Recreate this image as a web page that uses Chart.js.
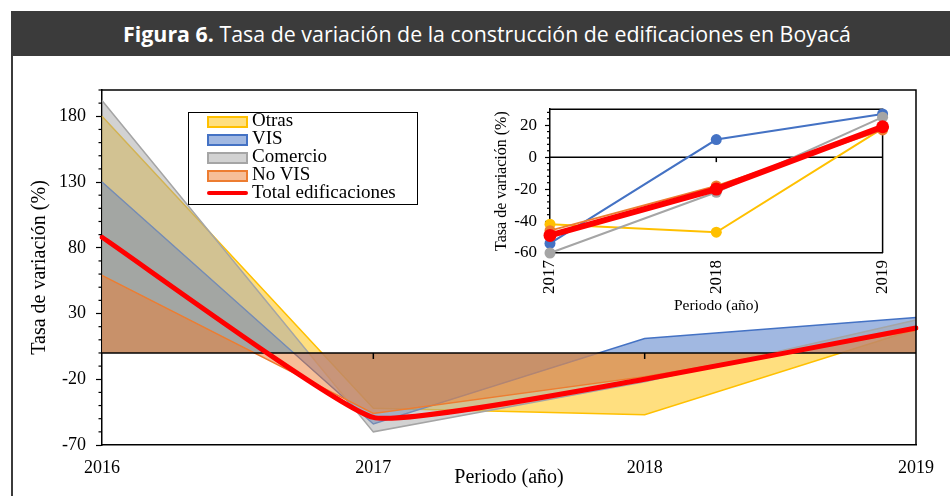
<!DOCTYPE html>
<html>
<head>
<meta charset="utf-8">
<script src="https://cdn.jsdelivr.net/npm/chart.js@4/dist/chart.umd.min.js"></script>
<style>
html,body{margin:0;padding:0;background:#fff;}
body{width:950px;height:496px;position:relative;overflow:hidden;}
#titlebar{position:absolute;left:11px;top:11px;width:939px;height:45px;background:#3b3b3b;}
#titletext{position:absolute;left:112px;top:1px;white-space:nowrap;color:#fff;font-family:'Open Sans',sans-serif;font-size:21px;line-height:45px;transform-origin:0 50%;}
#frame{position:absolute;left:11px;top:56px;width:2px;height:440px;background:#3b3b3b;}
#main{position:absolute;left:0;top:0;}
#inset{position:absolute;left:470px;top:91px;}
#legend{position:absolute;left:188px;top:112px;width:228px;height:91px;border:1px solid #000;background:#fff;font-family:'Liberation Serif',serif;font-size:19px;color:#000;}
.row{position:absolute;left:0;height:18px;width:228px;}
.sw{position:absolute;left:18px;top:3px;width:37px;height:8px;border:2px solid;}
.ln{position:absolute;left:18px;top:6px;width:41px;height:4px;border-radius:2px;}
.tx{position:absolute;left:63px;top:-3px;line-height:20px;white-space:nowrap;}
</style>
</head>
<body>
<div id="titlebar"><div id="titletext"><b>Figura 6.</b> Tasa de variación de la construcción de edificaciones en Boyacá</div></div>
<div id="frame"></div>
<canvas id="main" width="950" height="496"></canvas>
<canvas id="inset" width="440" height="224"></canvas>
<div id="legend"></div>
<script>
// ---- data ----
const years = ['2016', '2017', '2018', '2019'];
const otras = [180, -42, -47, 18];
const vis = [130, -54, 11, 27];
const comercio = [192, -60, -22, 25];
const noVis = [59, -46, -18, 17];
const total = [88, -49, -20, 19];
const mainYTicks = [-70, -20, 30, 80, 130, 180];
const insetYTicks = [-60, -40, -20, 0, 20];
const seriesNames = ['Otras', 'VIS', 'Comercio', 'No VIS', 'Total edificaciones'];

// ---- styles ----
const lineCols = ['#FFC000', '#4472C4', '#A5A5A5', '#ED7D31', '#FF0000'];
const fillCols = ['rgba(255,192,0,0.5)', 'rgba(68,114,196,0.5)', 'rgba(165,165,165,0.5)', 'rgba(237,125,49,0.5)'];

// title width calibration
const tt = document.getElementById('titletext');
const w = tt.getBoundingClientRect().width;
tt.style.transform = 'scaleX(' + (728 / w) + ')';

// legend
const lg = document.getElementById('legend');
seriesNames.forEach((n, i) => {
  const r = document.createElement('div');
  r.className = 'row';
  r.style.top = (i * 18) + 'px';
  if (i < 4) {
    r.innerHTML = '<div class="sw" style="border-color:' + lineCols[i] + ';background:' + fillCols[i] + '"></div>';
  } else {
    r.innerHTML = '<div class="ln" style="background:' + lineCols[i] + '"></div>';
  }
  r.innerHTML += '<div class="tx">' + n + '</div>';
  lg.appendChild(r);
});

Chart.defaults.font.family = "'Liberation Serif', serif";
Chart.defaults.color = '#000';

const allSeries = [otras, vis, comercio, noVis, total];

// ---- main chart ----
const mainDeco = {
  id: 'mainDeco',
  afterDatasetDraw(chart, args) {
    if (args.index !== 3) return;
    const {ctx, chartArea: a, scales: {x, y}} = chart;
    const y0 = y.getPixelForValue(0);
    ctx.save();
    ctx.strokeStyle = '#000'; ctx.lineWidth = 1.5;
    ctx.beginPath(); ctx.moveTo(a.left, y0); ctx.lineTo(a.right, y0); ctx.stroke();
    [1, 2].forEach(i => {
      const px = x.getPixelForValue(i);
      ctx.beginPath(); ctx.moveTo(px, y0); ctx.lineTo(px, y0 + 6); ctx.stroke();
    });
    ctx.restore();
  },
  afterDraw(chart) {
    const {ctx, chartArea: a, scales: {y}} = chart;
    ctx.save();
    ctx.strokeStyle = '#000'; ctx.lineWidth = 1.5;
    ctx.beginPath(); ctx.moveTo(a.left, a.top); ctx.lineTo(a.right, a.top); ctx.lineTo(a.right, a.bottom); ctx.stroke();
    ctx.lineWidth = 1.2;
    for (let v = -70; v <= 200; v += 10) {
      if (mainYTicks.includes(v)) continue;
      const py = y.getPixelForValue(v);
      ctx.beginPath(); ctx.moveTo(a.left - 3.5, py); ctx.lineTo(a.left, py); ctx.stroke();
    }
    ctx.restore();
  }
};

const mainDatasets = allSeries.map((d, i) => {
  if (i < 4) {
    return {
      label: seriesNames[i], data: d, fill: 'origin', backgroundColor: fillCols[i],
      borderColor: lineCols[i], borderWidth: 1.5, pointRadius: 0, tension: 0, order: 5 - i
    };
  }
  return {
    label: seriesNames[i], data: d, fill: false, borderColor: lineCols[i], borderWidth: 5,
    pointRadius: 0, tension: 0.12, order: 0, borderCapStyle: 'round', borderJoinStyle: 'round'
  };
});

new Chart(document.getElementById('main'), {
  type: 'line',
  data: {labels: years, datasets: mainDatasets},
  options: {
    responsive: false, animation: false, devicePixelRatio: 1,
    layout: {padding: {left: 24, right: 34, top: 90, bottom: 6}},
    plugins: {legend: {display: false}, tooltip: {enabled: false}},
    scales: {
      x: {
        offset: false,
        grid: {display: false, drawTicks: false},
        border: {display: true, color: '#000', width: 1.5},
        ticks: {font: {size: 18}, padding: 12, autoSkip: false, maxRotation: 0},
        title: {display: true, text: 'Periodo (año)', font: {size: 20}, padding: {top: 0, bottom: 0}},
        afterFit(s) { s.height = 45; }
      },
      y: {
        min: -70, max: 200,
        afterBuildTicks(s) { s.ticks = mainYTicks.map(v => ({value: v})); },
        grid: {drawOnChartArea: false, drawTicks: true, tickLength: 6, tickColor: '#000', tickWidth: 1.2},
        border: {display: true, color: '#000', width: 1.5},
        ticks: {font: {size: 18}, padding: 10},
        title: {display: true, text: 'Tasa de variación (%)', font: {size: 20}, padding: {top: 4, bottom: 0}},
        afterFit(s) { s.width = 78; }
      }
    }
  },
  plugins: [mainDeco]
});

// ---- inset chart ----
const insetDeco = {
  id: 'insetDeco',
  beforeDatasetsDraw(chart) {
    const {ctx, chartArea: a, scales: {x, y}} = chart;
    const y0 = y.getPixelForValue(0);
    ctx.save();
    ctx.strokeStyle = '#000'; ctx.lineWidth = 1.5;
    ctx.beginPath(); ctx.moveTo(a.left, y0); ctx.lineTo(a.right, y0); ctx.stroke();
    const px = x.getPixelForValue(1);
    ctx.beginPath(); ctx.moveTo(px, y0); ctx.lineTo(px, y0 + 5); ctx.stroke();
    ctx.beginPath(); ctx.moveTo(a.left, a.top); ctx.lineTo(a.right, a.top); ctx.lineTo(a.right, a.bottom); ctx.stroke();
    ctx.lineWidth = 1.2;
    for (let v = -60; v <= 30; v += 4) {
      if (insetYTicks.includes(v)) continue;
      const py = y.getPixelForValue(v);
      ctx.beginPath(); ctx.moveTo(a.left - 3, py); ctx.lineTo(a.left, py); ctx.stroke();
    }
    ctx.restore();
  }
};

const insetDatasets = allSeries.map((d, i) => ({
  label: seriesNames[i], data: d.slice(1), fill: false, borderColor: lineCols[i],
  backgroundColor: lineCols[i], borderWidth: i === 4 ? 6 : 2, pointRadius: i === 4 ? 6.5 : 5.5,
  pointBorderWidth: 0, pointBackgroundColor: lineCols[i], tension: 0, order: 5 - i, clip: false
}));

new Chart(document.getElementById('inset'), {
  type: 'line',
  data: {labels: years.slice(1), datasets: insetDatasets},
  options: {
    responsive: false, animation: false, devicePixelRatio: 1,
    layout: {padding: {left: 20, right: 8, top: 14, bottom: 0}},
    plugins: {legend: {display: false}, tooltip: {enabled: false}},
    scales: {
      x: {
        offset: false,
        grid: {display: false, drawTicks: false},
        border: {display: true, color: '#000', width: 1.5},
        ticks: {font: {size: 17}, padding: 7, autoSkip: false, minRotation: 90, maxRotation: 90},
        title: {display: true, text: 'Periodo (año)', font: {size: 15.5}, padding: {top: 0, bottom: 0}},
        afterFit(s) { s.height = 62; }
      },
      y: {
        min: -60, max: 30,
        afterBuildTicks(s) { s.ticks = insetYTicks.map(v => ({value: v})); },
        grid: {drawOnChartArea: false, drawTicks: true, tickLength: 5, tickColor: '#000', tickWidth: 1.2},
        border: {display: true, color: '#000', width: 1.5},
        ticks: {font: {size: 17}, padding: 8},
        title: {display: true, text: 'Tasa de variación (%)', font: {size: 16}, padding: {top: 2, bottom: 0}},
        afterFit(s) { s.width = 60; }
      }
    }
  },
  plugins: [insetDeco]
});
</script>
</body>
</html>
